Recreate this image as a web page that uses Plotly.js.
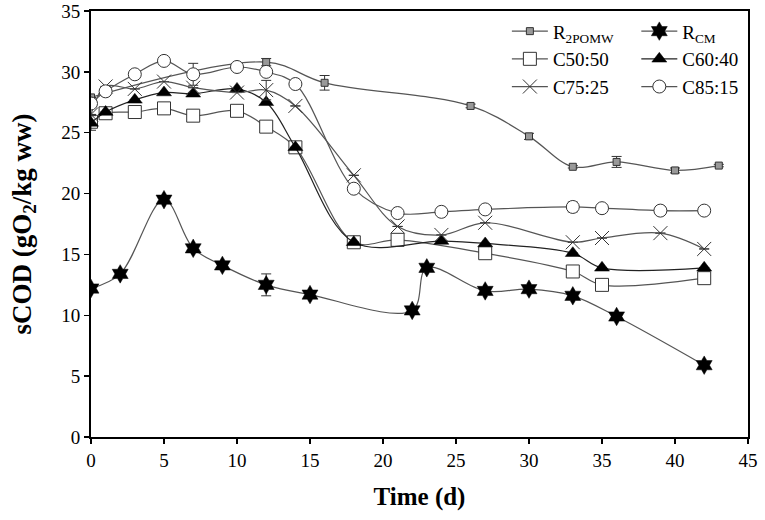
<!DOCTYPE html>
<html>
<head>
<meta charset="utf-8">
<script src="https://cdn.plot.ly/plotly-3.0.1.min.js"></script>
<style>html,body{margin:0;padding:0;background:#fff;}#chart{width:765px;height:520px;}</style>
</head>
<body>
<div id="chart"></div>
<script>
// ---- data ----
const seriesNames = ["R<sub>2POMW</sub>", "R<sub>CM</sub>", "C50:50", "C60:40", "C75:25", "C85:15"];

const r2pomwX = [0, 12, 16, 26, 30, 33, 36, 40, 43];
const r2pomwY = [27.9, 30.8, 29.1, 27.2, 24.7, 22.2, 22.6, 21.9, 22.3];
const r2pomwErr = [0, 0.3, 0.6, 0.15, 0.25, 0.1, 0.45, 0.2, 0.1];

const rcmX = [0, 2, 5, 7, 9, 12, 15, 22, 23, 27, 30, 33, 36, 42];
const rcmY = [12.2, 13.4, 19.5, 15.5, 14.1, 12.5, 11.7, 10.4, 13.9, 12.0, 12.15, 11.6, 9.9, 5.9];
const rcmErr = [0, 0, 0, 0, 0, 0.9, 0, 0, 0, 0, 0, 0, 0, 0];

const c5050X = [0, 1, 3, 5, 7, 10, 12, 14, 18, 21, 27, 33, 35, 42];
const c5050Y = [25.9, 26.6, 26.7, 27.0, 26.4, 26.8, 25.5, 23.8, 16.0, 16.2, 15.1, 13.6, 12.5, 13.05];

const c6040X = [0, 1, 3, 5, 7, 10, 12, 14, 18, 24, 27, 33, 35, 42];
const c6040Y = [25.8, 26.7, 27.7, 28.3, 28.2, 28.6, 27.5, 23.8, 16.0, 16.1, 15.9, 15.1, 13.9, 13.9];
const c6040Err = [0.6, 0, 0, 0, 0, 0, 0, 0, 0, 0, 0, 0, 0, 0];

const c7525X = [0, 1, 3, 5, 7, 10, 12, 14, 18, 21, 24, 27, 33, 35, 39, 42];
const c7525Y = [26.5, 28.8, 28.6, 29.2, 28.7, 28.3, 28.5, 27.2, 21.5, 17.3, 16.6, 17.6, 16.0, 16.35, 16.75, 15.45];
const c7525Err = [0, 0, 0, 0, 0, 0, 0.8, 0, 0, 0, 0, 0, 0, 0, 0, 0];

const c8515X = [0, 1, 3, 5, 7, 10, 12, 14, 18, 21, 24, 27, 33, 35, 39, 42];
const c8515Y = [27.4, 28.4, 29.8, 30.9, 29.8, 30.4, 30.0, 29.0, 20.4, 18.4, 18.5, 18.7, 18.9, 18.8, 18.6, 18.6];
const c8515Err = [0, 0, 0, 0, 0.9, 0, 0, 0, 0, 0, 0, 0, 0.4, 0, 0.3, 0];

const xTicks = [0, 5, 10, 15, 20, 25, 30, 35, 40, 45];
const yTicks = [0, 5, 10, 15, 20, 25, 30, 35];

// ---- styles ----
const lineCol = '#555';
const serif = 'Liberation Serif, Times New Roman, serif';
function err(arr) {
  return {type: 'data', array: arr, visible: true, color: '#333', thickness: 1, width: 5};
}
function base(name, x, y, legend) {
  return {x: x, y: y, name: name, type: 'scatter', mode: 'lines+markers',
          line: {shape: 'spline', smoothing: 1, color: lineCol, width: 1.2}, legend: legend};
}

const traces = [];
let t;
t = base(seriesNames[0], r2pomwX, r2pomwY, 'legend');
t.marker = {symbol: 'square', size: 7, color: '#999', line: {color: '#333', width: 1}};
t.error_y = err(r2pomwErr);
traces.push(t);

t = base(seriesNames[1], rcmX, rcmY, 'legend2');
t.marker = {symbol: 'hexagram', size: 14, color: '#000', line: {color: '#000', width: 0.5}};
t.error_y = err(rcmErr);
traces.push(t);

t = base(seriesNames[2], c5050X, c5050Y, 'legend');
t.marker = {symbol: 'square', size: 13, color: '#fff', line: {color: '#333', width: 1}};
traces.push(t);

t = base(seriesNames[3], c6040X, c6040Y, 'legend2');
t.line.color = '#222';
t.marker = {symbol: 'triangle-up', size: 13, color: '#000', line: {color: '#000', width: 0.5}};
t.error_y = err(c6040Err);
traces.push(t);

t = base(seriesNames[4], c7525X, c7525Y, 'legend');
t.marker = {symbol: 'x-thin-open', size: 14, color: '#333', line: {color: '#333', width: 1}};
t.error_y = err(c7525Err);
traces.push(t);

t = base(seriesNames[5], c8515X, c8515Y, 'legend2');
t.marker = {symbol: 'circle', size: 13, color: '#fff', line: {color: '#333', width: 1}};
t.error_y = err(c8515Err);
traces.push(t);

const legendStyle = (x) => ({
  x: x, y: 0.997, xanchor: 'left', yanchor: 'top', orientation: 'v',
  bgcolor: 'rgba(0,0,0,0)', borderwidth: 0,
  font: {family: serif, size: 19, color: '#000'}, itemwidth: 36
});

const layout = {
  width: 765, height: 520,
  margin: {l: 91, r: 17, t: 11, b: 83},
  paper_bgcolor: '#fff', plot_bgcolor: '#fff',
  showlegend: true,
  legend: legendStyle(0.633),
  legend2: legendStyle(0.83),
  font: {family: serif, color: '#000'},
  xaxis: {
    range: [0, 45], tickvals: xTicks, ticktext: xTicks.map(String),
    ticks: 'outside', ticklen: 5, tickwidth: 1.5, tickcolor: '#000',
    showline: true, linecolor: '#000', linewidth: 2, mirror: true,
    showgrid: false, zeroline: false,
    tickfont: {family: serif, size: 19, color: '#000'},
    title: {text: '<b>Time (d)</b>', font: {family: serif, size: 25, color: '#000'}, standoff: 18}
  },
  yaxis: {
    range: [0, 35], tickvals: yTicks, ticktext: yTicks.map(String),
    ticks: 'outside', ticklen: 5, tickwidth: 1.5, tickcolor: '#000',
    showline: true, linecolor: '#000', linewidth: 2, mirror: true,
    showgrid: false, zeroline: false,
    tickfont: {family: serif, size: 19, color: '#000'},
    title: {text: '<b>sCOD (gO<sub>2</sub>/kg ww)</b>', font: {family: serif, size: 27, color: '#000'}, standoff: 22}
  }
};

Plotly.newPlot('chart', traces, layout, {displayModeBar: false, staticPlot: true});
</script>
</body>
</html>
